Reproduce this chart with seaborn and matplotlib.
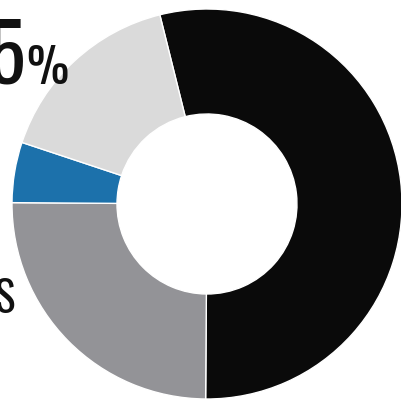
import matplotlib
matplotlib.use("Agg")
import matplotlib.pyplot as plt
import seaborn as sns

# Data (share of the ring, clockwise from the black wedge)
categories = ["Black", "Gray", "Blue", "Light gray"]
values = [54, 25, 5, 16]
colors = ["#0a0a0a", "#939397", "#1c71ab", "#dadada"]
big_label = "55"
pct_label = "%"
side_label = "S"

sns.set_theme(style="white")
plt.rcParams["font.family"] = ["Oswald", "Anton", "Liberation Sans Narrow", "DejaVu Sans"]

fig = plt.figure(figsize=(4.01, 4.02), dpi=100)
ax = fig.add_axes([0, 0, 1, 1])

ax.pie(values, colors=colors, startangle=104, counterclock=False,
       center=(207, 197), radius=195, frame=True,
       wedgeprops=dict(width=105, edgecolor="white", linewidth=1))
ax.set_xlim(0, 401)
ax.set_ylim(0, 402)
ax.set_aspect("equal")
ax.axis("off")

ax.text(26, 318, big_label, ha="right", va="baseline", fontsize=57,
        fontweight="bold", color="#111111")
ax.text(26, 318, pct_label, ha="left", va="baseline", fontsize=34,
        fontweight="bold", color="#111111")
ax.text(15, 89, side_label, ha="right", va="baseline", fontsize=31,
        fontweight="bold", color="#111111")

fig.savefig("out.png", dpi=100)
